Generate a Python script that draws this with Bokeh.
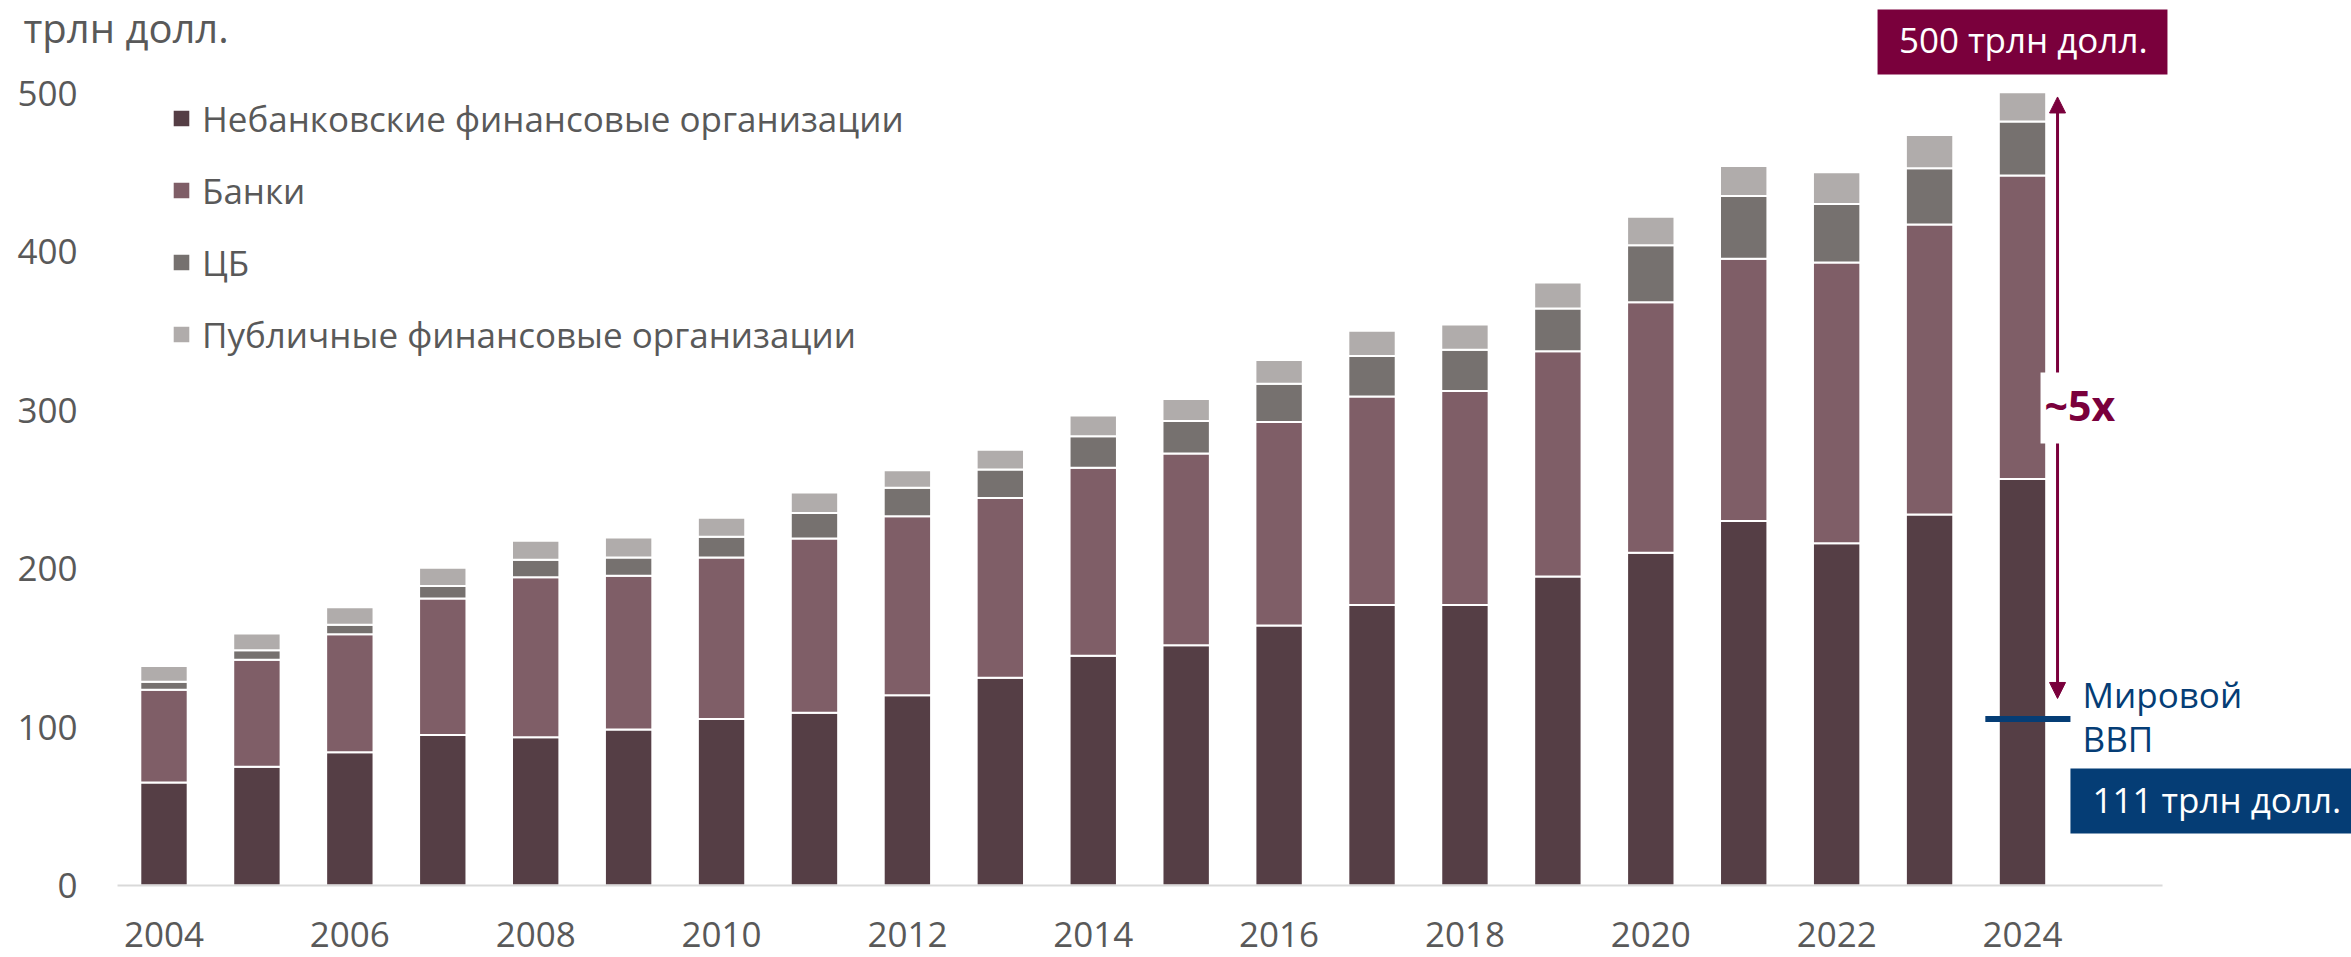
from bokeh.plotting import figure
from bokeh.models import (Range1d, FixedTicker, Label, BoxAnnotation, Arrow,
                          NormalHead, ColumnDataSource)
from bokeh.embed import file_html
from bokeh.resources import INLINE

# ---------------- data (трлн долл.) ----------------
years = list(range(2004, 2025))
nbfi = [65, 75, 84, 95, 93.5, 98.5, 105, 109, 120, 131, 145, 151.5, 164, 177,
        177, 195, 210, 230, 216, 234, 256.5]
banks = [58.5, 67.5, 74.5, 86, 101, 97, 102, 110, 113, 113.5, 118.5, 121,
         128.5, 131.5, 135, 142, 158, 165.5, 177, 183, 191.5]
cb = [5, 6, 6, 8, 11, 11.5, 13, 16, 18, 18, 20, 20.5, 24, 25.5, 26, 27, 36,
      39.5, 37, 35.5, 34]
public = [10, 10.5, 11, 11.5, 12, 12.5, 12, 13, 11, 12.5, 13, 14, 15, 16, 16,
          16.5, 18, 19, 20, 21, 18.5]
series_labels = ["Небанковские финансовые организации", "Банки", "ЦБ",
                 "Публичные финансовые организации"]
y_ticks = [0, 100, 200, 300, 400, 500]
x_ticks = list(range(2004, 2025, 2))
total_label = "500 трлн долл."
gdp_label = "111 трлн долл."
gdp_marker = 105          # where the GDP line is drawn on the chart
growth_label = "~5x"
unit_label = "трлн долл."

# ---------------- styles ----------------
colors = ["#553E45", "#7F5E67", "#76716F", "#B0ACAB"]
MAROON = "#7A003C"
BLUE = "#053D75"
GRAY = "#595959"
FONT = "Open Sans"
FS = "35px"

W, H = 2351, 957
PXY = 92.925      # px per year
PXV = 1.585       # px per unit
X0_CANVAS = 163.5  # canvas x of first year
Y0_CANVAS = 885    # canvas y of value 0
SH = 16 / PXV      # label baseline correction (data units)

x_start = years[0] - X0_CANVAS / PXY
x_end = x_start + W / PXY
y_end = Y0_CANVAS / PXV
y_start = y_end - H / PXV

p = figure(width=W, height=H, x_range=Range1d(x_start, x_end),
           y_range=Range1d(y_start, y_end), output_backend="svg",
           toolbar_location=None, min_border=0)
p.min_border_left = p.min_border_right = p.min_border_top = p.min_border_bottom = 0
p.outline_line_color = None
p.grid.visible = False
p.background_fill_color = "white"

src = ColumnDataSource(dict(year=years, nbfi=nbfi, banks=banks, cb=cb, public=public))
p.vbar_stack(["nbfi", "banks", "cb", "public"], x="year", width=0.51,
             color=colors, line_color="white", line_width=2, source=src,
             legend_label=series_labels)

# baseline
p.segment(x0=[years[0] - 0.5], x1=[years[-1] + 1.507], y0=[0], y1=[0],
          line_color="#D9D9D9", line_width=2)

# axes
xa = p.xaxis[0]
xa.fixed_location = 0
xa.ticker = FixedTicker(ticks=x_ticks)
xa.axis_line_color = None
xa.major_tick_line_color = None
xa.minor_tick_line_color = None
xa.major_label_standoff = 30
xa.major_label_text_font = FONT
xa.major_label_text_font_size = FS
xa.major_label_text_color = GRAY

ya = p.yaxis[0]
ya.fixed_location = years[0] - 0.522
ya.ticker = FixedTicker(ticks=y_ticks)
ya.axis_line_color = None
ya.major_tick_line_color = None
ya.minor_tick_line_color = None
ya.major_label_standoff = 32
ya.major_label_text_font = FONT
ya.major_label_text_font_size = FS
ya.major_label_text_color = GRAY

# legend
lg = p.legend[0]
lg.location = (170, 598)
lg.orientation = "vertical"
lg.border_line_color = None
lg.background_fill_alpha = 0
lg.padding = 0
lg.margin = 0
lg.spacing = 22
lg.glyph_width = 22
lg.glyph_height = 22
lg.label_height = 50
lg.label_standoff = 10
lg.label_text_font = FONT
lg.label_text_font_size = FS
lg.label_text_color = GRAY

# unit title (kept fully inside the canvas, as high as possible)
p.add_layout(Label(x=x_start + 23 / PXY, y=y_end - 46 / PXV + 19 / PXV,
                   text=unit_label, text_font=FONT, text_font_size="40px",
                   text_color=GRAY, text_baseline="alphabetic", text_align="left"))

last = years[-1]
total_last = nbfi[-1] + banks[-1] + cb[-1] + public[-1]

# arrow  ~5x
ax = last + 0.377
p.add_layout(Arrow(x_start=ax, y_start=118, x_end=ax, y_end=total_last - 3,
                   start=NormalHead(size=16, fill_color=MAROON, line_color=MAROON),
                   end=NormalHead(size=16, fill_color=MAROON, line_color=MAROON),
                   line_color=MAROON, line_width=3))
p.add_layout(BoxAnnotation(left=last + 0.194, right=last + 1.0, top=323.7,
                           bottom=278.9, fill_color="white", fill_alpha=1,
                           line_alpha=0))
p.add_layout(Label(x=last + 0.237, y=291.5 + 18 / PXV, text=growth_label,
                   text_font=FONT, text_font_size="41px", text_font_style="bold",
                   text_color=MAROON, text_baseline="alphabetic"))

# total box
p.add_layout(BoxAnnotation(left=last - 1.56, right=last + 1.56, top=552.7,
                           bottom=511.7, fill_color=MAROON, fill_alpha=1,
                           line_alpha=0))
p.add_layout(Label(x=last - 1.33, y=523.7 + SH, text=total_label, text_font=FONT,
                   text_font_size=FS, text_color="white",
                   text_baseline="alphabetic"))

# world GDP
p.segment(x0=[last - 0.40], x1=[last + 0.516], y0=[gdp_marker], y1=[gdp_marker],
          line_color=BLUE, line_width=6)
p.add_layout(Label(x=last + 0.646, y=110.4 + SH, text="Мировой", text_font=FONT,
                   text_font_size=FS, text_color=BLUE, text_baseline="alphabetic"))
p.add_layout(Label(x=last + 0.646, y=82.6 + SH, text="ВВП", text_font=FONT,
                   text_font_size=FS, text_color=BLUE, text_baseline="alphabetic"))
p.add_layout(BoxAnnotation(left=last + 0.516, right=x_end + 1, top=73.8,
                           bottom=32.8, fill_color=BLUE, fill_alpha=1,
                           line_alpha=0))
p.add_layout(Label(x=last + 0.753, y=44.2 + SH, text=gdp_label, text_font=FONT,
                   text_font_size=FS, text_color="white",
                   text_baseline="alphabetic"))

open("out.html", "w").write(file_html(p, INLINE))
